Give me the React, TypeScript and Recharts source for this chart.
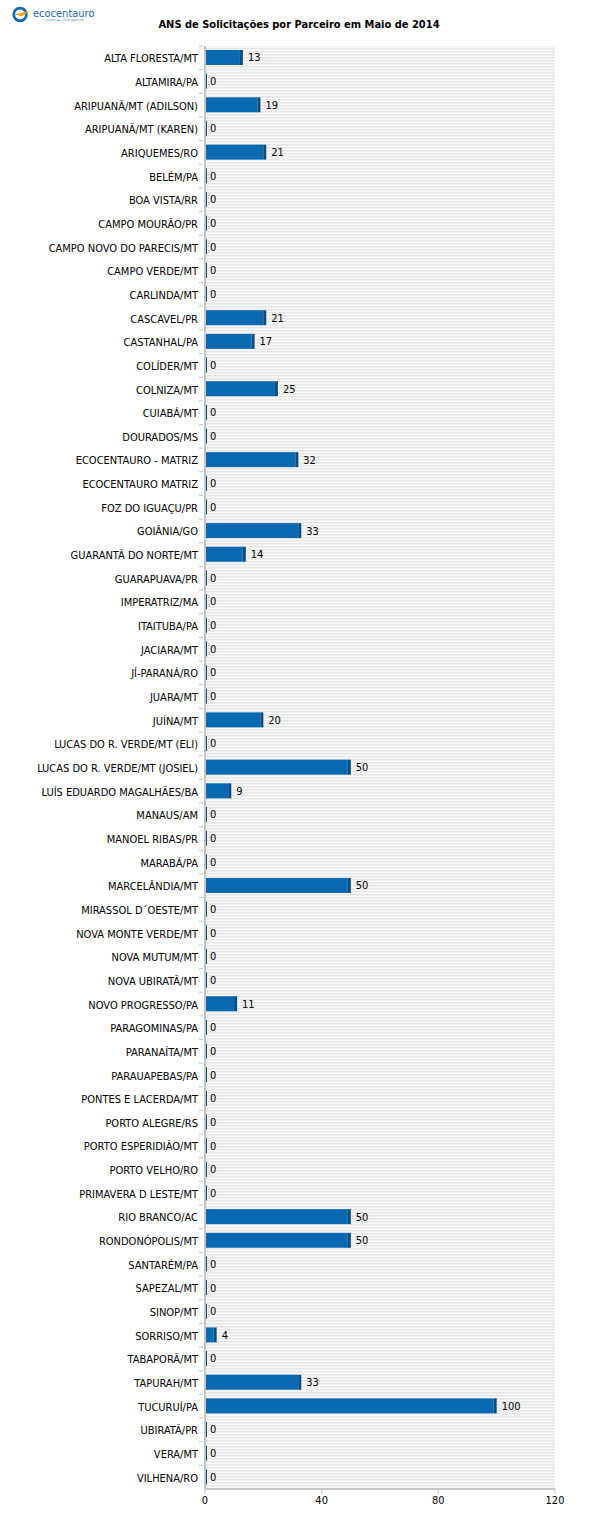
import { BarChart, Bar, XAxis, YAxis, LabelList, ReferenceArea } from "recharts";

const partners = [
  "ALTA FLORESTA/MT",
  "ALTAMIRA/PA",
  "ARIPUANÃ/MT (ADILSON)",
  "ARIPUANÃ/MT (KAREN)",
  "ARIQUEMES/RO",
  "BELÉM/PA",
  "BOA VISTA/RR",
  "CAMPO MOURÃO/PR",
  "CAMPO NOVO DO PARECIS/MT",
  "CAMPO VERDE/MT",
  "CARLINDA/MT",
  "CASCAVEL/PR",
  "CASTANHAL/PA",
  "COLÍDER/MT",
  "COLNIZA/MT",
  "CUIABÁ/MT",
  "DOURADOS/MS",
  "ECOCENTAURO - MATRIZ",
  "ECOCENTAURO MATRIZ",
  "FOZ DO IGUAÇU/PR",
  "GOIÂNIA/GO",
  "GUARANTÃ DO NORTE/MT",
  "GUARAPUAVA/PR",
  "IMPERATRIZ/MA",
  "ITAITUBA/PA",
  "JACIARA/MT",
  "JÍ-PARANÁ/RO",
  "JUARA/MT",
  "JUÍNA/MT",
  "LUCAS DO R. VERDE/MT (ELI)",
  "LUCAS DO R. VERDE/MT (JOSIEL)",
  "LUÍS EDUARDO MAGALHÃES/BA",
  "MANAUS/AM",
  "MANOEL RIBAS/PR",
  "MARABÁ/PA",
  "MARCELÂNDIA/MT",
  "MIRASSOL D´OESTE/MT",
  "NOVA MONTE VERDE/MT",
  "NOVA MUTUM/MT",
  "NOVA UBIRATÃ/MT",
  "NOVO PROGRESSO/PA",
  "PARAGOMINAS/PA",
  "PARANAÍTA/MT",
  "PARAUAPEBAS/PA",
  "PONTES E LACERDA/MT",
  "PORTO ALEGRE/RS",
  "PORTO ESPERIDIÃO/MT",
  "PORTO VELHO/RO",
  "PRIMAVERA D LESTE/MT",
  "RIO BRANCO/AC",
  "RONDONÓPOLIS/MT",
  "SANTARÉM/PA",
  "SAPEZAL/MT",
  "SINOP/MT",
  "SORRISO/MT",
  "TABAPORÃ/MT",
  "TAPURAH/MT",
  "TUCURUÍ/PA",
  "UBIRATÃ/PR",
  "VERA/MT",
  "VILHENA/RO",
];

const requests = [
  13, 0, 19, 0, 21, 0, 0, 0, 0, 0, 0, 21, 17, 0, 25, 0, 0, 32, 0, 0, 33, 14, 0,
  0, 0, 0, 0, 0, 20, 0, 50, 9, 0, 0, 0, 50, 0, 0, 0, 0, 11, 0, 0, 0, 0, 0, 0, 0,
  0, 50, 50, 0, 0, 0, 4, 0, 33, 100, 0, 0, 0,
];

const xTicks = [0, 40, 80, 120];

const data = partners.map((name, i) => ({ name, value: requests[i] }));

const FONT = '"DejaVu Sans Condensed", "DejaVu Sans", sans-serif';
const CHART_H = 1525;
const PLOT_TOP = 46;
const PLOT_BOTTOM = 1489;
const band = (PLOT_BOTTOM - PLOT_TOP) / partners.length;

const BarShape = (props: any) => {
  const { x, y, width, height } = props;
  const w = Math.max(width, 0);
  const edge = w < 3 ? 2 : 3;
  return (
    <g>
      {w > edge && <rect x={x} y={y} width={w - edge} height={height} fill="#0b69b1" />}
      <rect x={x + Math.max(w - edge, 0)} y={y} width={edge} height={height} fill="#0d4c7e" />
    </g>
  );
};

const CategoryTick = (props: any) => {
  const { x, y, payload } = props;
  return (
    <g>
      <line x1={x + 2} x2={x + 6} y1={y - band / 2} y2={y - band / 2} stroke="#c4c4c4" />
      <text x={x + 1} y={y} dy={4.5} textAnchor="end" fontSize={11} fill="#000" fontFamily={FONT}>
        {payload.value}
      </text>
    </g>
  );
};

const Logo = () => (
  <div style={{ position: "absolute", left: 11, top: 6, display: "flex", alignItems: "center" }}>
    <svg width={20} height={17} viewBox="0 0 22 18">
      <circle cx={10} cy={9} r={7} fill="none" stroke="#1565b8" strokeWidth={3} />
      <path d="M4 9 L21 5 L12 11 Z" fill="#f5a11a" />
    </svg>
    <div style={{ marginLeft: 2, lineHeight: 1 }}>
      <div style={{ fontFamily: FONT, fontSize: 11, color: "#1565b8" }}>ecocentauro</div>
      <div style={{ fontFamily: FONT, fontSize: 3, color: "#1565b8", letterSpacing: 0.5, marginLeft: 12 }}>
        sistemas inteligentes
      </div>
    </div>
  </div>
);

const App = () => {
  return (
    <div style={{ position: "absolute", left: 0, top: 0, width: 600, height: CHART_H, background: "#fff" }}>
      <Logo />
      <div
        style={{
          position: "absolute",
          top: 18,
          left: 0,
          width: 598,
          textAlign: "center",
          fontFamily: FONT,
          fontWeight: "bold",
          fontSize: 11,
          color: "#000",
        }}
      >
        ANS de Solicitações por Parceiro em Maio de 2014
      </div>
      <BarChart
        width={600}
        height={CHART_H}
        data={data}
        layout="vertical"
        barSize={15}
        margin={{ top: PLOT_TOP, right: 45, left: 5, bottom: CHART_H - PLOT_BOTTOM - 30 }}
      >
        <defs>
          <pattern id="stripes" width={6} height={3} patternUnits="userSpaceOnUse">
            <rect width={6} height={3} fill="#f8f8f8" />
            <rect width={6} height={1.5} fill="#e6e6e6" />
          </pattern>
        </defs>
        <ReferenceArea x1={0} x2={120} fill="url(#stripes)" fillOpacity={1} stroke="none" ifOverflow="extendDomain" />
        <XAxis
          type="number"
          domain={[0, 120]}
          ticks={xTicks}
          height={30}
          axisLine={{ stroke: "#c4c4c4", strokeWidth: 2 }}
          tickLine={{ stroke: "#c4c4c4" }}
          tickSize={5}
          tick={{ fill: "#000", fontSize: 11, fontFamily: FONT }}
        />
        <YAxis
          type="category"
          dataKey="name"
          width={200}
          interval={0}
          axisLine={{ stroke: "#c4c4c4", strokeWidth: 2 }}
          tickLine={false}
          tick={<CategoryTick />}
        />
        <Bar dataKey="value" shape={<BarShape />} isAnimationActive={false}>
          <LabelList dataKey="value" position="right" offset={5} fill="#000" fontSize={11} fontFamily={FONT} />
        </Bar>
      </BarChart>
    </div>
  );
};

export default App;
